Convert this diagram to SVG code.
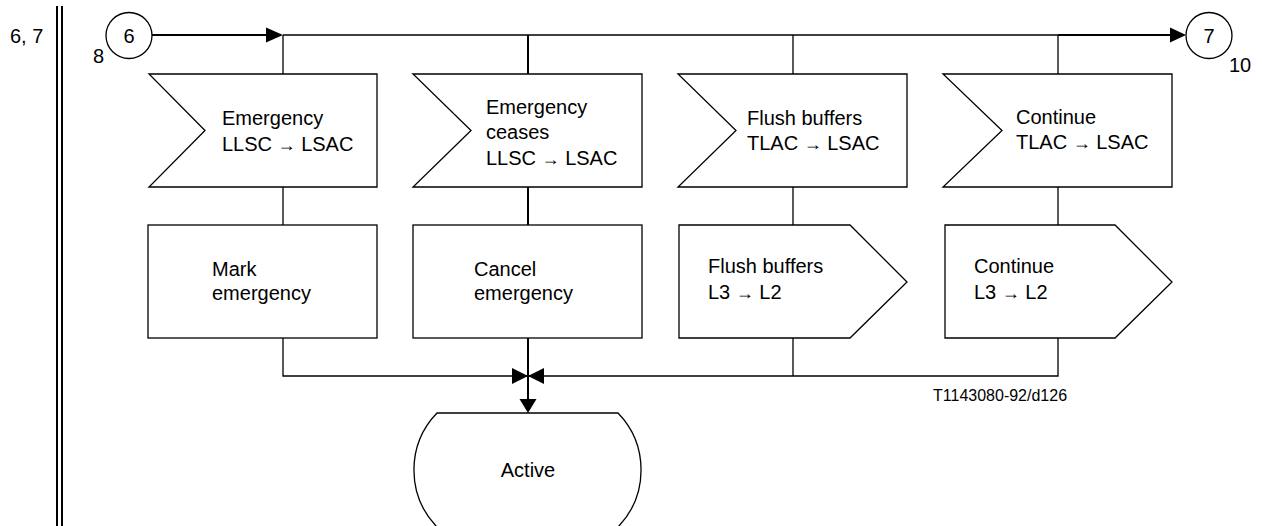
<svg xmlns="http://www.w3.org/2000/svg" width="1262" height="526" viewBox="0 0 1262 526">
<defs>
<style>
.s{fill:#fff;stroke:#000;stroke-width:1.3}
.ln{fill:none;stroke:#000;stroke-width:1.3}
.tk{fill:none;stroke:#000;stroke-width:2}
.ah{fill:#000;stroke:none}
text{font-family:"Liberation Sans",Arial,sans-serif;font-size:20px;fill:#000}
.ar{font-size:18px}
.sm{font-size:16px}
</style>
</defs>
<rect width="1262" height="526" fill="#fff"/>
<g id="frame">
<line x1="57" y1="6" x2="57" y2="526" stroke="#000" stroke-width="2"/>
<line x1="62" y1="6" x2="62" y2="526" stroke="#000" stroke-width="2"/>
<text x="10" y="43">6, 7</text>
</g>
<g id="connectors">
<line class="tk" x1="152" y1="35" x2="268" y2="35"/>
<polygon class="ah" points="283,35 266,27.5 266,42.5"/>
<line class="ln" x1="283" y1="35" x2="1058" y2="35"/>
<line class="tk" x1="1058" y1="35" x2="1173" y2="35"/>
<polygon class="ah" points="1186,35 1170,27.5 1170,42.5"/>
<line class="ln" x1="283" y1="35" x2="283" y2="74"/>
<line class="tk" x1="528" y1="35" x2="528" y2="74"/>
<line class="ln" x1="793" y1="35" x2="793" y2="74"/>
<line class="ln" x1="1058" y1="35" x2="1058" y2="74"/>
<line class="ln" x1="283" y1="187" x2="283" y2="225"/>
<line class="tk" x1="528" y1="187" x2="528" y2="225"/>
<line class="ln" x1="793" y1="187" x2="793" y2="225"/>
<line class="ln" x1="1058" y1="187" x2="1058" y2="225"/>
<polyline class="ln" points="283,338 283,376 1058,376 1058,338"/>
<line class="ln" x1="793" y1="338" x2="793" y2="376"/>
<line class="tk" x1="528" y1="338" x2="528" y2="401"/>
<polygon class="ah" points="528,376 512,368 512,384"/>
<polygon class="ah" points="528,376 544,368 544,384"/>
<polygon class="ah" points="528,413 519.5,399 536.5,399"/>
</g>
<g id="conn-in">
<circle class="s" cx="129" cy="35.5" r="23"/>
<text x="129" y="43" text-anchor="middle">6</text>
<text x="93" y="63">8</text>
</g>
<g id="conn-out">
<circle class="s" cx="1209" cy="35.5" r="23"/>
<text x="1209" y="43" text-anchor="middle">7</text>
<text x="1229" y="72">10</text>
</g>
<g id="in1">
<polygon class="s" points="149,74 377,74 377,187 149,187 205,130.5"/>
<text x="222" y="125">Emergency</text>
<text x="222" y="151">LLSC <tspan class="ar">→</tspan> LSAC</text>
</g>
<g id="in2">
<polygon class="s" points="413,74 642,74 642,187 413,187 471,130.5"/>
<text x="486" y="114">Emergency</text>
<text x="486" y="139">ceases</text>
<text x="486" y="165">LLSC <tspan class="ar">→</tspan> LSAC</text>
</g>
<g id="in3">
<polygon class="s" points="678,74 907,74 907,187 678,187 736,130.5"/>
<text x="747" y="125">Flush buffers</text>
<text x="747" y="150">TLAC <tspan class="ar">→</tspan> LSAC</text>
</g>
<g id="in4">
<polygon class="s" points="943,74 1172,74 1172,187 943,187 1002,130.5"/>
<text x="1016" y="124">Continue</text>
<text x="1016" y="149">TLAC <tspan class="ar">→</tspan> LSAC</text>
</g>
<g id="task1">
<rect class="s" x="148" y="225" width="229" height="113"/>
<text x="212" y="276">Mark</text>
<text x="212" y="300">emergency</text>
</g>
<g id="task2">
<rect class="s" x="413" y="225" width="229" height="113"/>
<text x="474" y="276">Cancel</text>
<text x="474" y="300">emergency</text>
</g>
<g id="out3">
<polygon class="s" points="679,225 850,225 907,282 850,338 679,338"/>
<text x="708" y="273">Flush buffers</text>
<text x="708" y="299">L3 <tspan class="ar">→</tspan> L2</text>
</g>
<g id="out4">
<polygon class="s" points="945,225 1115,225 1172,282 1115,338 945,338"/>
<text x="974" y="273">Continue</text>
<text x="974" y="299">L3 <tspan class="ar">→</tspan> L2</text>
</g>
<g id="state-active">
<path class="s" d="M437,413 L618,413 A82,82 0 0 1 618,527 L437,527 A82,82 0 0 1 437,413 Z"/>
<text x="528" y="477" text-anchor="middle">Active</text>
</g>
<text class="sm" x="933" y="401">T1143080-92/d126</text>
</svg>
